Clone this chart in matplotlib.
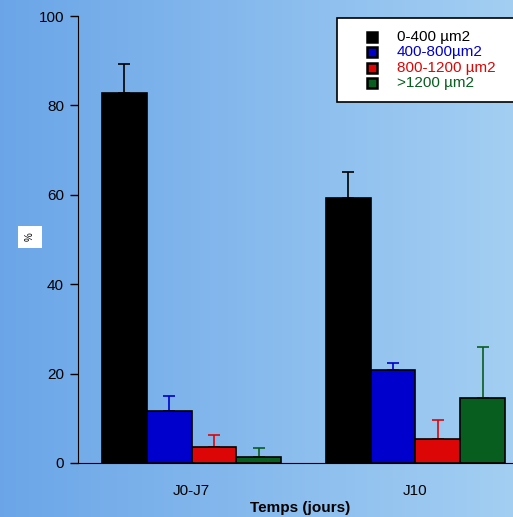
import numpy as np
import matplotlib
matplotlib.use("Agg")
import matplotlib.pyplot as plt
from matplotlib.patches import Rectangle

plt.rcParams['font.family'] = ['Liberation Sans', 'DejaVu Sans']

groups = ["J0-J7", "J10"]
classes = ["0-400 µm2", "400-800µm2", "800-1200 µm2", ">1200 µm2"]
means = {
    "0-400 µm2":    [82.8, 59.3],
    "400-800µm2":   [11.6, 20.8],
    "800-1200 µm2": [3.6, 5.4],
    ">1200 µm2":    [1.3, 14.5],
}
errors = {
    "0-400 µm2":    [6.5, 5.8],
    "400-800µm2":   [3.4, 1.6],
    "800-1200 µm2": [2.7, 4.2],
    ">1200 µm2":    [2.1, 11.5],
}
colors = ["#000000", "#0000cc", "#dd0606", "#075e1e"]
yticks = [0, 20, 40, 60, 80, 100]

W, H = 513, 517
fig = plt.figure(figsize=(W / 100, H / 100), dpi=100)


def fx(px):
    return px / W


def fy(py):
    return 1 - py / H


# gradient backdrop
bg = fig.add_axes([0, 0, 1, 1], zorder=-10)
grad = np.linspace(0, 1, 256)
left_c = np.array([0.42, 0.65, 0.91])
right_c = np.array([0.64, 0.81, 0.95])
img = left_c[None, :] * (1 - grad[:, None]) + right_c[None, :] * grad[:, None]
bg.imshow(img[None, :, :], aspect="auto", extent=[0, 1, 0, 1])
bg.set_axis_off()

ax = fig.add_axes([fx(78), fy(463), 1 - fx(78), (463 - 16) / H])
ax.patch.set_alpha(0)

x = np.arange(len(groups))
width = 0.2
offsets = [-0.3, -0.1, 0.1, 0.3]
for cls, col, off in zip(classes, colors, offsets):
    vals = means[cls]
    err = errors[cls]
    ax.bar(x + off, vals, width, color=col, edgecolor="black", linewidth=1.2, zorder=2)
    ax.errorbar(x + off, vals, yerr=[np.zeros(len(vals)), err], fmt="none",
                ecolor=col, elinewidth=1.2, capsize=4, capthick=1.2, zorder=1)

ax.set_xlim(-0.507, 1.436)
ax.set_ylim(0, 100)
ax.set_yticks(yticks)
ax.set_yticklabels([str(v) for v in yticks], fontsize=11)
ax.set_xticks(x)
ax.set_xticklabels(groups, fontsize=11)
ax.tick_params(axis="x", length=0, pad=15)
ax.tick_params(axis="y", length=6, width=1, direction="out", pad=4)
ax.spines["top"].set_visible(False)
ax.spines["right"].set_visible(False)

fig.text(fx(300), fy(508), "Temps (jours)", fontsize=11, fontweight="bold",
         ha="center", va="center")

fig.text(fx(30), fy(237), "%", rotation=90, fontsize=7,
         ha="center", va="center",
         bbox=dict(facecolor="white", edgecolor="none", pad=5))

# legend box
fig.patches.append(Rectangle((fx(337), fy(102)), fx(200), (102 - 18) / H,
                             transform=fig.transFigure, facecolor="white",
                             edgecolor="black", linewidth=1.2, zorder=5))
rows = [37, 52, 68, 83]
for cls, col, ry in zip(classes, colors, rows):
    fig.patches.append(Rectangle((fx(367), fy(ry + 5)), fx(10), 10 / H,
                                 transform=fig.transFigure, facecolor=col,
                                 edgecolor="black", linewidth=1.8, zorder=6))
    fig.text(fx(397), fy(ry), cls, fontsize=11, color=col,
             ha="left", va="center", zorder=7)

fig.savefig("out.png", dpi=100)
